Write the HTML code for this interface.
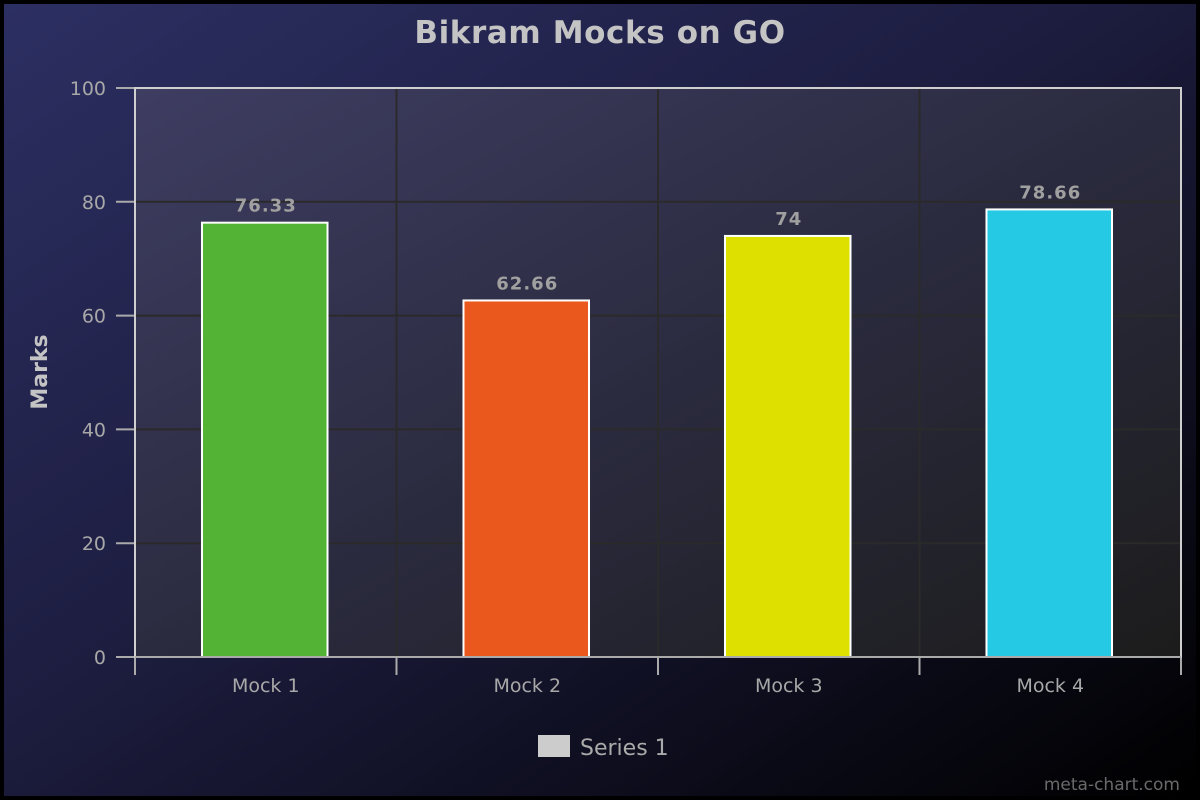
<!DOCTYPE html>
<html><head><meta charset="utf-8"><style>
html,body{margin:0;padding:0;background:#000;}
svg{display:block;font-family:"DejaVu Sans","Liberation Sans",sans-serif;}
</style></head><body>
<svg id="chart" width="1200" height="800" viewBox="0 0 1200 800" xmlns="http://www.w3.org/2000/svg">
<defs>
<linearGradient id="bg" x1="0" y1="0" x2="1" y2="1">
<stop offset="0" stop-color="#2c2f62"/><stop offset="0.45" stop-color="#1d1d40"/><stop offset="1" stop-color="#000"/>
</linearGradient>
<linearGradient id="pbg" x1="0" y1="0" x2="1" y2="1">
<stop offset="0" stop-color="#3e3d62"/><stop offset="0.5" stop-color="#2b2b40"/><stop offset="1" stop-color="#1c1c1c"/>
</linearGradient>
</defs>
<rect x="0" y="0" width="1200" height="800" fill="#000"/>
<rect x="4" y="4" width="1192" height="792" fill="url(#bg)"/>
<rect x="135" y="88" width="1046" height="569" fill="url(#pbg)"/>
<g id="grid"></g><g id="bars"></g><g id="axes"></g>
<text x="600" y="43" text-anchor="middle" font-size="31" font-weight="bold" letter-spacing="0.6" fill="#c4c4c4">Bikram Mocks on GO</text>
<text transform="translate(47,372) rotate(-90)" text-anchor="middle" font-size="22" font-weight="bold" fill="#c4c4c4">Marks</text>
<rect x="538" y="735" width="32" height="22" fill="#cccccc"/>
<text x="580" y="755" font-size="22" fill="#aaaaaa">Series 1</text>
<text x="1180" y="790" text-anchor="end" font-size="17" fill="#6a6a6a">meta-chart.com</text>
</svg>
<script>
const categories = ["Mock 1","Mock 2","Mock 3","Mock 4"];
const values = [76.33, 62.66, 74, 78.66];
const valueLabels = ["76.33","62.66","74","78.66"];
const barColors = ["#52b335","#eb581d","#dee000","#25c9e3"];
const yTicks = [0,20,40,60,80,100];
const NS="http://www.w3.org/2000/svg";
const X0=135,X1=1181,Y0=657,Y1=88,YMAX=100;
const y=v=>Y0-(v/YMAX)*(Y0-Y1);
const band=(X1-X0)/categories.length;
const xc=i=>X0+band*(i+0.5)-1;
function mk(tag,attrs,parent){const e=document.createElementNS(NS,tag);for(const k in attrs)e.setAttribute(k,attrs[k]);parent.appendChild(e);return e;}
const grid=document.getElementById('grid'),bars=document.getElementById('bars'),axes=document.getElementById('axes');
yTicks.forEach(t=>{
  if(t>0&&t<YMAX){const g=mk('line',{x1:X0,x2:X1,y1:y(t),y2:y(t),stroke:'#2a2a2a','stroke-width':2},grid);
  
  }
  const tk=mk('line',{x1:116,x2:X0,y1:y(t),y2:y(t),stroke:'#aaa','stroke-width':2},axes);
  
  
  const tl=mk('text',{x:106,y:y(t)+7,'text-anchor':'end','font-size':19,fill:'#a8a8a8'},axes);
  tl.textContent=t;
  
  
});
for(let i=1;i<categories.length;i++){
  const g=mk('line',{x1:X0+band*i,x2:X0+band*i,y1:Y1,y2:Y0,stroke:'#2a2a2a','stroke-width':2},grid);
  
  
}
const bw=band*0.48;
categories.forEach((c,i)=>{
  const r=mk('rect',{x:xc(i)-bw/2,y:y(values[i]),width:bw,height:Y0-y(values[i]),fill:barColors[i],stroke:'#fff','stroke-width':2},bars);
  
  
  const vl=mk('text',{x:xc(i)+1,y:y(values[i])-11,'text-anchor':'middle','font-size':18,'font-weight':'bold','letter-spacing':1,fill:'#a0a0a0'},bars);
  vl.textContent=valueLabels[i];
  
  
  const cl=mk('text',{x:xc(i)+1,y:692,'text-anchor':'middle','font-size':19,fill:'#a8a8a8'},axes);
  cl.textContent=c;
  
  
});
for(let i=0;i<=categories.length;i++){
  const t=mk('line',{x1:X0+band*i,x2:X0+band*i,y1:Y0,y2:675,stroke:'#aaa','stroke-width':2},axes);
  
  
}
const b=mk('rect',{x:X0,y:Y1,width:X1-X0,height:Y0-Y1,fill:'none',stroke:'#cfcfcf','stroke-width':2},axes);


const xa=mk('line',{x1:X0,x2:X1,y1:Y0,y2:Y0,stroke:'#aaa','stroke-width':2},axes);


</script>
</body></html>
